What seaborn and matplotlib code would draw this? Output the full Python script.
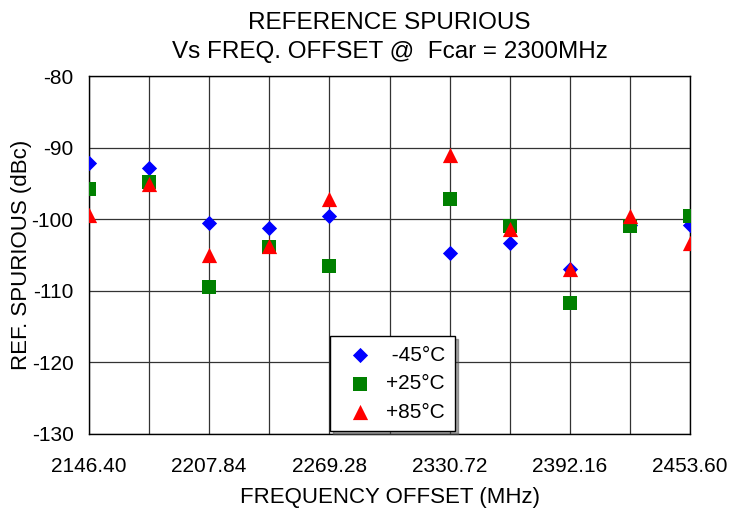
"""
Reference spurious vs frequency offset, three temperatures.
Output: out.png
"""

import numpy as np
import pandas as pd
import matplotlib
matplotlib.use('Agg')
import matplotlib.pyplot as plt
from matplotlib.ticker import FixedLocator, FormatStrFormatter
import seaborn as sns

sns.set_style("white")
plt.rcParams['font.family'] = ['Liberation Sans', 'DejaVu Sans']
plt.rcParams['axes.unicode_minus'] = False
plt.rcParams['text.color'] = 'black'
plt.rcParams['axes.labelcolor'] = 'black'
plt.rcParams['xtick.color'] = 'black'
plt.rcParams['ytick.color'] = 'black'

# Data (no point at 2300.00 MHz)
freq_mhz = [2146.40, 2177.12, 2207.84, 2238.56, 2269.28,
            2330.72, 2361.44, 2392.16, 2422.88, 2453.60]
spur_m45 = [-92.1, -92.9, -100.5, -101.2, -99.6,
            -104.7, -103.3, -107.0, -100.8, -100.8]
spur_p25 = [-95.8, -94.8, -109.5, -103.9, -106.5,
            -97.2, -100.9, -111.7, -100.9, -99.5]
spur_p85 = [-99.4, -95.1, -105.0, -103.7, -97.2,
            -91.1, -101.4, -107.0, -99.5, -103.4]

series_labels = [' -45°C', '+25°C', '+85°C']
series_values = [spur_m45, spur_p25, spur_p85]

# Long-form table for seaborn
df = pd.concat(
    [pd.DataFrame({'freq': freq_mhz, 'spur': vals, 'temp': lab})
     for lab, vals in zip(series_labels, series_values)],
    ignore_index=True)

styles = {
    ' -45°C': dict(marker='D', color='#0000FF', s=60),
    '+25°C': dict(marker='s', color='#008000', s=105),
    '+85°C': dict(marker='^', color='#FF0000', s=120),
}

fig = plt.figure(figsize=(7.47, 5.14), dpi=100)
fig.subplots_adjust(left=0.119, right=0.924, top=0.852, bottom=0.156)
ax = fig.add_subplot(111)

for lab in series_labels:
    st = styles[lab]
    sns.scatterplot(data=df[df['temp'] == lab], x='freq', y='spur', ax=ax,
                    marker=st['marker'], color=st['color'], s=st['s'],
                    linewidth=0, label=lab, zorder=3)

x_lo, x_hi = 2146.40, 2453.60
ax.set_xlim(x_lo, x_hi)
ax.set_ylim(-130, -80)
ax.xaxis.set_major_locator(FixedLocator(np.linspace(x_lo, x_hi, 6)))
ax.xaxis.set_minor_locator(FixedLocator(np.linspace(x_lo, x_hi, 11)))
ax.xaxis.set_major_formatter(FormatStrFormatter('%.2f'))
ax.yaxis.set_major_locator(FixedLocator(np.arange(-130, -79, 10)))

ax.grid(True, which='both', axis='x', color='#333333', linewidth=0.9, zorder=0)
ax.grid(True, which='major', axis='y', color='#333333', linewidth=0.9, zorder=0)
ax.set_axisbelow(True)
for sp in ax.spines.values():
    sp.set_color('black')
    sp.set_linewidth(1.0)

ax.tick_params(axis='both', which='major', direction='out', length=6,
               width=1, color='black', labelsize=15, pad=5)
ax.tick_params(axis='x', which='major', pad=11)
ax.tick_params(axis='x', which='minor', length=0)

ax.set_xlabel('FREQUENCY OFFSET (MHz)', fontsize=16)
ax.set_ylabel('REF. SPURIOUS (dBc)', fontsize=16)
ax.xaxis.set_label_coords(0.5, -0.150)
ax.yaxis.set_label_coords(-0.095, 0.5)

ax.set_title('REFERENCE SPURIOUS\nVs FREQ. OFFSET @  Fcar = 2300MHz',
             fontsize=17.5, linespacing=1.4, pad=13)

leg = ax.legend(loc='lower left', bbox_to_anchor=(0.401, 0.008),
                borderaxespad=0, fontsize=15, frameon=True, fancybox=False,
                shadow=True, labelspacing=0.45, handletextpad=0.25,
                borderpad=0.45, handlelength=2.0)
leg.get_frame().set_edgecolor('black')
leg.get_frame().set_linewidth(1.0)

fig.savefig('out.png', dpi=100)
